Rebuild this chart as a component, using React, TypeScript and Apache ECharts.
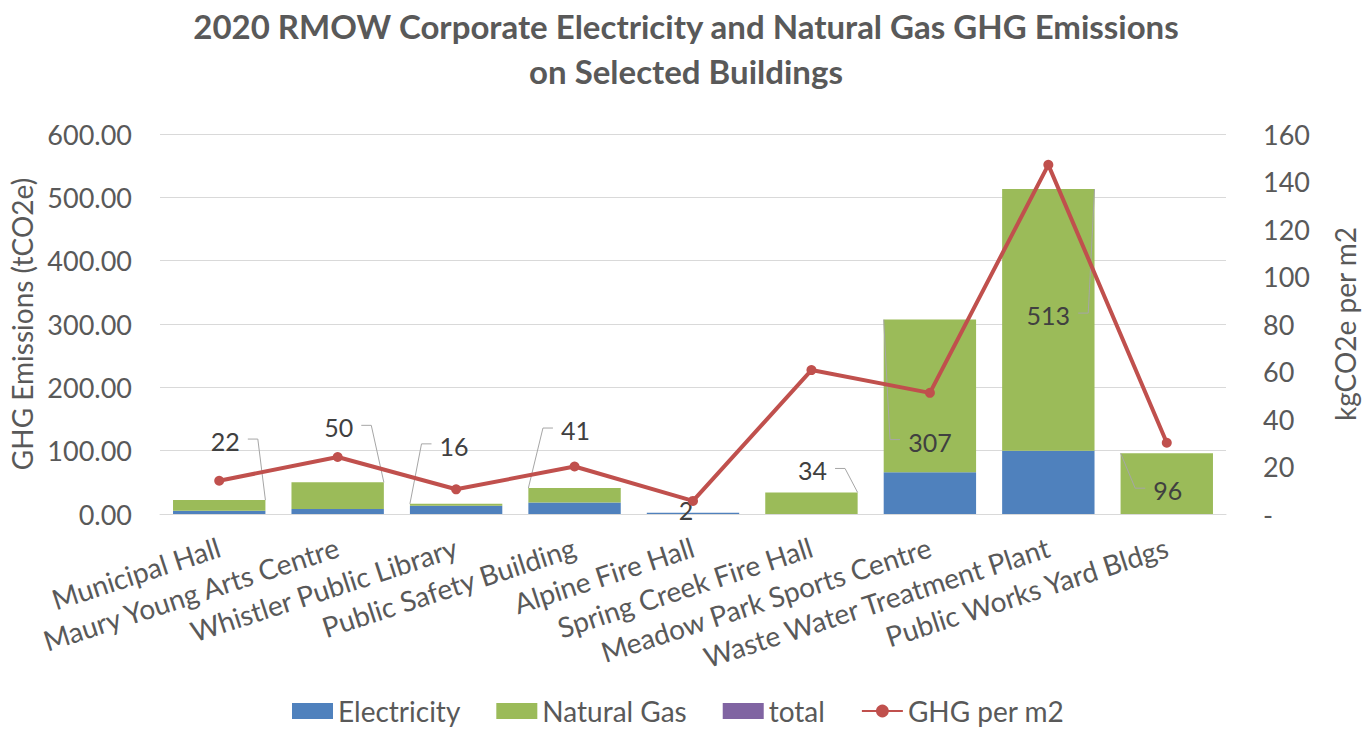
import React, { useEffect, useRef } from "react";
import * as echarts from "echarts";

const categories = [
  "Municipal Hall",
  "Maury Young Arts Centre",
  "Whistler Public Library",
  "Public Safety Building",
  "Alpine Fire Hall",
  "Spring Creek Fire Hall",
  "Meadow Park Sports Centre",
  "Waste Water Treatment Plant",
  "Public Works Yard Bldgs",
];
const electricity = [5, 8, 13, 18, 2, 0, 66, 100, 0];
const naturalGas = [17, 42, 3, 23, 0, 34, 241, 413, 96];
const total = [22, 50, 16, 41, 2, 34, 307, 513, 96];
const ghgPerM2 = [14, 24, 10.4, 20, 5.5, 60.6, 51, 147, 30];
const leftTicks = { min: 0, max: 600, interval: 100 };
const rightTicks = { min: 0, max: 160, interval: 20 };

// label placement relative to bar top (presentation only)
const labelOffset = [
  [6, -59], [1, -55], [-2, -58], [1, -58], [-7, -3], [1, -22], [0, 122], [0, 126], [1, 37],
];
// leader line side: 1 right corner, -1 left corner, 0 none
const leaderSide = [1, 1, -1, -1, 0, 1, -1, 1, -1];

const FONT = "Lato, 'Liberation Sans', sans-serif";
const GREY = "#595959";
const BAR_RATIO = 0.78;

export default function App() {
  const ref = useRef<HTMLDivElement>(null);
  useEffect(() => {
    if (!ref.current) return;
    const chart = echarts.init(ref.current, null, { renderer: "svg" });
    chart.setOption({
      animation: false,
      textStyle: { fontFamily: FONT },
      title: {
        text: "2020 RMOW Corporate Electricity and Natural Gas GHG Emissions\non Selected Buildings",
        left: "center",
        top: -2,
        textStyle: { fontFamily: FONT, fontSize: 33, fontWeight: "bold", color: GREY, lineHeight: 45 },
      },
      legend: {
        bottom: 6,
        left: 287,
        itemWidth: 41,
        itemHeight: 16,
        itemGap: 36,
        textStyle: { fontFamily: FONT, fontSize: 28, color: GREY },
        data: [
          { name: "Electricity", icon: "rect" },
          { name: "Natural Gas", icon: "rect" },
          { name: "total", icon: "rect", itemStyle: { color: "#8064A2" } },
          { name: "GHG per m2" },
        ],
      },
      grid: {
        left: 160,
        right: 146,
        top: 134,
        bottom: 222,
        containLabel: false,
        outerBoundsMode: "none",
      },
      xAxis: {
        type: "category",
        data: categories,
        axisLine: { lineStyle: { color: "#d9d9d9" } },
        axisTick: { show: false },
        axisLabel: { rotate: 18, interval: 0, fontSize: 28, color: GREY, fontFamily: FONT, margin: 32 },
      },
      yAxis: [
        {
          type: "value",
          ...leftTicks,
          name: "GHG Emissions (tCO2e)",
          nameLocation: "middle",
          nameGap: 120,
          nameRotate: 90,
          nameTextStyle: { fontSize: 28, color: GREY, fontFamily: FONT },
          axisLabel: { fontSize: 27, color: GREY, margin: 28, formatter: (v: number) => v.toFixed(2) },
          splitLine: { lineStyle: { color: "#d9d9d9" } },
          axisLine: { show: false },
          axisTick: { show: false },
        },
        {
          type: "value",
          ...rightTicks,
          position: "right",
          name: "kgCO2e per m2",
          nameLocation: "middle",
          nameGap: 105,
          nameRotate: 90,
          nameTextStyle: { fontSize: 28, color: GREY, fontFamily: FONT },
          axisLabel: {
            fontSize: 27,
            color: GREY,
            margin: 37,
            formatter: (v: number) => (v === 0 ? "-" : String(v)),
          },
          splitLine: { show: false },
          axisLine: { show: false },
          axisTick: { show: false },
        },
      ],
      series: [
        {
          name: "Electricity",
          type: "bar",
          stack: "ghg",
          data: electricity,
          barWidth: BAR_RATIO * 100 + "%",
          itemStyle: { color: "#4F81BD" },
        },
        {
          name: "Natural Gas",
          type: "bar",
          stack: "ghg",
          data: naturalGas,
          barWidth: BAR_RATIO * 100 + "%",
          itemStyle: { color: "#9BBB59" },
        },
        {
          name: "total",
          type: "custom",
          data: total.map((v, i) => [i, v]),
          itemStyle: { color: "#8064A2" },
          z: 3,
          renderItem: (params: any, api: any) => {
            const i = params.dataIndex;
            const v = api.value(1);
            const top = api.coord([api.value(0), v]);
            const half = (api.size([1, 0])[0] * BAR_RATIO) / 2;
            const lx = top[0] + labelOffset[i][0];
            const ly = top[1] + labelOffset[i][1];
            const side = leaderSide[i];
            const halfW = String(v).length * 7.3;
            const children: any[] = [
              {
                type: "text",
                style: {
                  text: String(v),
                  x: lx,
                  y: ly,
                  align: "center",
                  verticalAlign: "middle",
                  textAlign: "center",
                  textVerticalAlign: "middle",
                  fontSize: 25,
                  fontFamily: FONT,
                  fill: "#404040",
                },
              },
            ];
            if (side !== 0) {
              children.push({
                type: "polyline",
                shape: {
                  points: [
                    [lx + side * (halfW + 8), ly - 2],
                    [lx + side * (halfW + 18), ly - 2],
                    [top[0] + side * half, top[1]],
                  ],
                },
                style: { stroke: "#a6a6a6", lineWidth: 1, fill: "none" },
              });
            }
            return { type: "group", children };
          },
        },
        {
          name: "GHG per m2",
          type: "line",
          yAxisIndex: 1,
          data: ghgPerM2,
          symbol: "circle",
          symbolSize: 10,
          lineStyle: { color: "#C0504D", width: 4 },
          itemStyle: { color: "#C0504D" },
          z: 4,
        },
      ],
    });
    return () => chart.dispose();
  }, []);
  return (
    <div
      ref={ref}
      style={{ position: "absolute", left: 0, top: 0, width: 1372, height: 736 }}
    />
  );
}
